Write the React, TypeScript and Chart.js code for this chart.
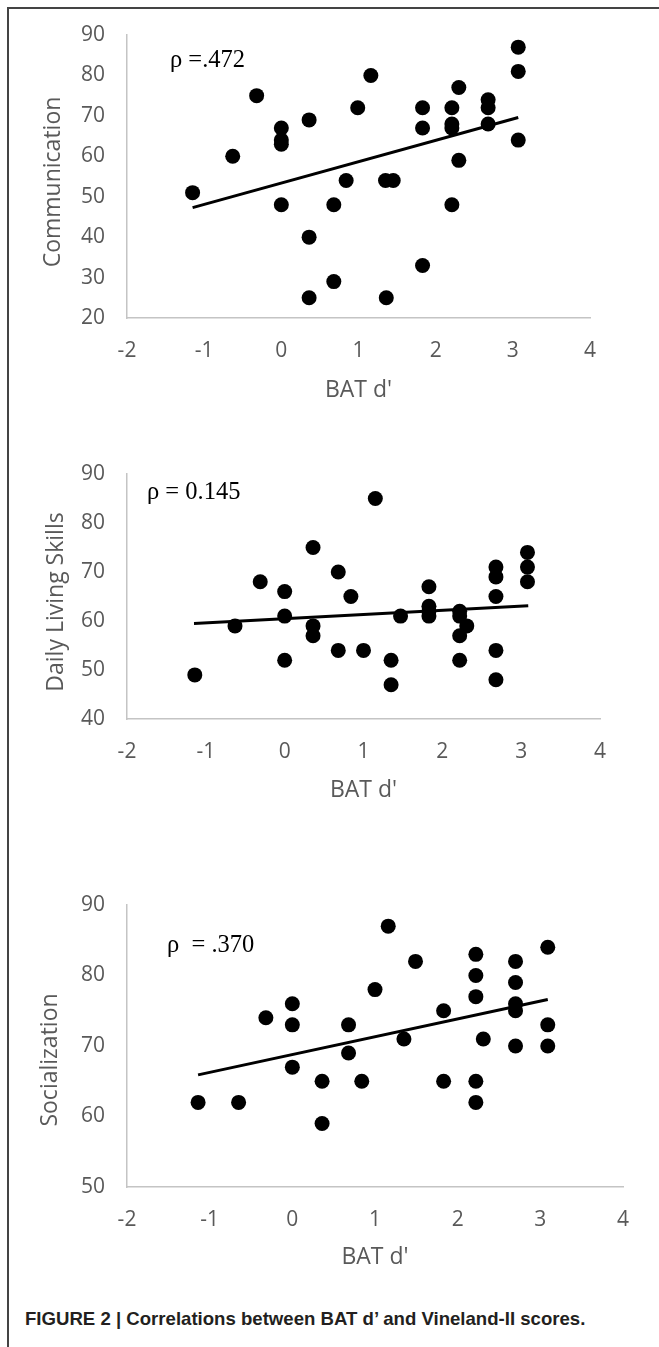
import React, { useEffect, useRef } from "react";
import { Chart, registerables } from "chart.js";
Chart.register(...registerables);

// ---------- data ----------
const xTickValues = [-2, -1, 0, 1, 2, 3, 4];
const xTitle = "BAT d'";

// Communication
const commX = [-1.15, -0.63, -0.32, 0, 0, 0, 0, 0.36, 0.36, 0.36, 0.68, 0.68, 0.84, 0.99, 1.16, 1.35, 1.45, 1.36, 1.83, 1.83, 1.83, 2.21, 2.21, 2.21, 2.21, 2.3, 2.3, 2.68, 2.68, 2.68, 3.07, 3.07, 3.07];
const commY = [51, 60, 75, 67, 64, 63, 48, 69, 40, 25, 48, 29, 54, 72, 80, 54, 54, 25, 72, 67, 33, 72, 68, 67, 48, 77, 59, 74, 72, 68, 87, 81, 64];
const commTrendX = [-1.15, 3.07];
const commTrendY = [47.3, 69.6];

// Daily Living Skills
const dlsX = [-1.14, -0.63, -0.31, 0, 0, 0, 0.36, 0.36, 0.36, 0.68, 0.68, 0.84, 1.0, 1.15, 1.35, 1.35, 1.47, 1.83, 1.83, 1.83, 1.83, 2.22, 2.22, 2.31, 2.22, 2.22, 2.68, 2.68, 2.68, 2.68, 2.68, 3.08, 3.08, 3.08];
const dlsY = [49, 59, 68, 66, 61, 52, 75, 59, 57, 70, 54, 65, 54, 85, 52, 47, 61, 67, 63, 62, 61, 62, 61, 59, 57, 52, 71, 69, 65, 54, 48, 74, 71, 68];
const dlsTrendX = [-1.15, 3.09];
const dlsTrendY = [59.5, 63.1];

// Socialization
const socX = [-1.14, -0.65, -0.32, 0, 0, 0, 0.36, 0.36, 0.68, 0.68, 0.84, 1.0, 1.16, 1.35, 1.49, 1.83, 1.83, 2.22, 2.22, 2.22, 2.22, 2.22, 2.31, 2.7, 2.7, 2.7, 2.7, 2.7, 3.09, 3.09, 3.09];
const socY = [62, 62, 74, 76, 73, 67, 65, 59, 73, 69, 65, 78, 87, 71, 82, 75, 65, 83, 80, 77, 65, 62, 71, 82, 79, 76, 75, 70, 84, 73, 70];
const socTrendX = [-1.14, 3.09];
const socTrendY = [65.9, 76.6];

const yTitles = ["Communication", "Daily Living Skills", "Socialization"];
const rhoLabels = ["\u03C1 =.472", "\u03C1 = 0.145", "\u03C1  = .370"];
const yMins = [20, 40, 50];
const yMaxs = [90, 90, 90];
const caption = "FIGURE 2 | Correlations between BAT d\u2019 and Vineland-II scores.";

// ---------- layout (page px) ----------
type Panel = {
  xs: number[]; ys: number[]; tx: number[]; ty: number[];
  yMin: number; yMax: number; yTitle: string; rho: string;
  canvasTop: number; canvasH: number;
  L: number; R: number; T: number; B: number;
  yTitleX: number; yTitleY: number; xTitleY: number; rhoX: number; rhoBase: number;
};

const panels: Panel[] = [
  { xs: commX, ys: commY, tx: commTrendX, ty: commTrendY, yMin: yMins[0], yMax: yMaxs[0], yTitle: yTitles[0], rho: rhoLabels[0],
    canvasTop: 0, canvasH: 420, L: 127, R: 590, T: 35, B: 318, yTitleX: 53, yTitleY: 182, xTitleY: 390, rhoX: 170, rhoBase: 66.5 },
  { xs: dlsX, ys: dlsY, tx: dlsTrendX, ty: dlsTrendY, yMin: yMins[1], yMax: yMaxs[1], yTitle: yTitles[1], rho: rhoLabels[1],
    canvasTop: 420, canvasH: 420, L: 127, R: 600, T: 474, B: 719, yTitleX: 56, yTitleY: 602, xTitleY: 790, rhoX: 147, rhoBase: 499 },
  { xs: socX, ys: socY, tx: socTrendX, ty: socTrendY, yMin: yMins[2], yMax: yMaxs[2], yTitle: yTitles[2], rho: rhoLabels[2],
    canvasTop: 840, canvasH: 450, L: 127, R: 623, T: 905, B: 1187, yTitleX: 50, yTitleY: 1060, xTitleY: 1257, rhoX: 167, rhoBase: 951.5 },
];

const W = 659;
const GRAY = "#595959";
const SANS = "'Open Sans', 'Noto Sans', sans-serif";
const TITLE_SIZE = 23;

function ScatterPanel({ p }: { p: Panel }) {
  const ref = useRef<HTMLCanvasElement | null>(null);
  useEffect(() => {
    if (!ref.current) return;
    const localT = p.T - p.canvasTop;
    const localB = p.B - p.canvasTop;
    const xAxisH = p.canvasH - localB;
    const titlePadBottom = p.canvasTop + p.canvasH - p.xTitleY - (TITLE_SIZE * 1.2) / 2;
    const annot = {
      id: "annot",
      afterDraw(chart: any) {
        const ctx = chart.ctx;
        ctx.save();
        ctx.fillStyle = GRAY;
        ctx.font = `${TITLE_SIZE}px ${SANS}`;
        ctx.textAlign = "center";
        ctx.textBaseline = "middle";
        ctx.translate(p.yTitleX, p.yTitleY - p.canvasTop);
        ctx.rotate(-Math.PI / 2);
        ctx.fillText(p.yTitle, 0, 0);
        ctx.restore();
        ctx.save();
        ctx.fillStyle = "#000";
        ctx.font = `24.5px 'Liberation Serif', 'Times New Roman', serif`;
        ctx.textAlign = "left";
        ctx.textBaseline = "alphabetic";
        ctx.fillText(p.rho, p.rhoX, p.rhoBase - p.canvasTop);
        ctx.restore();
      },
    };
    const chart = new Chart(ref.current, {
      type: "scatter",
      data: {
        datasets: [
          {
            data: p.xs.map((x, i) => ({ x, y: p.ys[i] })),
            backgroundColor: "#000",
            borderWidth: 0,
            pointRadius: 7.5,
            pointHoverRadius: 7.5,
          },
          {
            data: p.tx.map((x, i) => ({ x, y: p.ty[i] })),
            showLine: true,
            borderColor: "#000",
            borderWidth: 3,
            pointRadius: 0,
            pointHoverRadius: 0,
            fill: false,
          },
        ],
      },
      options: {
        animation: false,
        responsive: false,
        maintainAspectRatio: false,
        events: [],
        layout: { padding: { left: 0, top: localT, right: W - p.R, bottom: 0 } },
        plugins: { legend: { display: false }, tooltip: { enabled: false }, title: { display: false } },
        scales: {
          x: {
            type: "linear",
            min: -2,
            max: 4,
            afterBuildTicks: (s: any) => { s.ticks = xTickValues.map((v) => ({ value: v })); },
            afterFit: (s: any) => { s.height = xAxisH; },
            grid: { display: false, drawTicks: false },
            border: { display: true, color: "#c4c4c4", width: 1.5 },
            ticks: { color: GRAY, font: { family: SANS, size: 21 }, padding: 20 },
            title: { display: true, text: xTitle, color: GRAY, font: { family: SANS, size: TITLE_SIZE }, padding: { top: 0, bottom: titlePadBottom } },
          },
          y: {
            type: "linear",
            min: p.yMin,
            max: p.yMax,
            ticks: { stepSize: 10, color: GRAY, font: { family: SANS, size: 21 }, padding: 22 },
            afterFit: (s: any) => { s.width = p.L; },
            grid: { display: false, drawTicks: false },
            border: { display: true, color: "#c4c4c4", width: 1.5 },
          },
        },
      },
      plugins: [annot],
    } as any);
    return () => chart.destroy();
  }, [p]);
  return (
    <canvas
      ref={ref}
      width={W}
      height={p.canvasH}
      style={{ position: "absolute", left: 0, top: p.canvasTop, width: W, height: p.canvasH }}
    />
  );
}

export default function App() {
  return (
    <div style={{ position: "absolute", left: 0, top: 0, width: W, height: 1347, background: "#fff", overflow: "hidden" }}>
      {panels.map((p, i) => (
        <ScatterPanel key={i} p={p} />
      ))}
      <div style={{ position: "absolute", left: 7, top: 7, width: W - 7, height: 1.5, background: "#444" }} />
      <div style={{ position: "absolute", left: 7, top: 7, width: 1.5, height: 1347, background: "#444" }} />
      <div
        style={{
          position: "absolute",
          left: 25,
          top: 1308,
          fontFamily: "'Liberation Sans', Arial, sans-serif",
          fontWeight: "bold",
          fontSize: 18.6,
          lineHeight: "22px",
          color: "#231f20",
          whiteSpace: "nowrap",
        }}
      >
        {caption}
      </div>
    </div>
  );
}
